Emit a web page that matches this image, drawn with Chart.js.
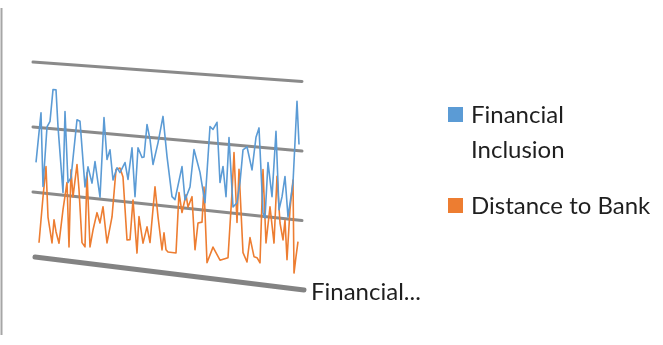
<!DOCTYPE html>
<html>
<head>
<meta charset="utf-8">
<script src="https://cdn.jsdelivr.net/npm/chart.js@4/dist/chart.umd.min.js"></script>
<style>
  html, body { margin: 0; padding: 0; background: #ffffff; }
  #wrap { width: 663px; height: 345px; position: relative; }
</style>
</head>
<body>
<div id="wrap"><canvas id="c" width="663" height="345"></canvas></div>
<script>
// Series names and legend lines
const seriesNames = ['Financial Inclusion', 'Distance to Bank'];
const legendLines = [['Financial', 'Inclusion'], ['Distance to Bank']];
const categoryLabel = 'Financial...';
const gridValues = [0, 1, 2, 3];

// Financial Inclusion: observation position and value
const inclusionObs = [0, 2.5, 3.5, 5.5, 7, 8.5, 10, 11, 13.5, 14.5, 16, 17.5, 20.5, 22, 24.5, 26, 28, 29.5, 32, 34,
  35.5, 37, 38.5, 40.5, 42, 44.5, 46, 48, 49.5, 51, 53, 54, 55.5, 57, 58.5, 61, 63.5, 65.5, 68, 69.5,
  73, 74.5, 77, 79, 82, 84.5, 87, 88.5, 90.5, 92, 93.5, 95, 96.5, 98.5, 100.5, 102, 103.5, 105.5, 108, 110,
  111.5, 113.5, 114.5, 116, 118, 120, 121.5, 123, 124.5, 126, 128.5, 130.5, 131.5];
const inclusionVal = [1.46, 2.23, 1.10, 2.02, 2.11, 2.60, 2.60, 2.04, 1.04, 2.28, 1.20, 1.28, 2.17, 2.15, 1.16, 1.47, 1.23, 1.56, 1.03, 2.24,
  1.61, 1.76, 1.31, 1.50, 1.43, 1.59, 1.34, 1.82, 1.09, 1.83, 1.69, 1.70, 2.19, 1.97, 1.60, 1.93, 2.33, 1.74, 1.15, 1.11,
  1.61, 1.12, 1.32, 1.88, 1.55, 1.11, 2.24, 2.20, 2.31, 1.43, 1.67, 1.23, 2.10, 1.09, 1.16, 1.46, 1.94, 1.99, 1.66, 2.14,
  2.28, 1.05, 0.98, 1.79, 1.30, 2.25, 1.12, 1.31, 1.61, 1.03, 1.53, 2.71, 2.09];

// Distance to Bank: observation position and value
const distanceObs = [1.5, 3.5, 5, 6, 8, 9, 10, 11.5, 13.5, 15.5, 16.5, 17.5, 18.5, 20.5, 21.5, 23, 24.5, 25.5, 27, 28.5,
  30.5, 32, 33.5, 35.5, 38, 40, 42, 43.5, 45.5, 47, 48.5, 50.5, 51.5, 53.5, 55.5, 57, 59.5, 61, 63, 64,
  65, 66, 70, 71.5, 73, 75, 76, 78, 79.5, 81, 83, 84, 85.5, 88.5, 92, 96, 98, 99, 100.5, 101.5,
  103.5, 105.5, 107, 109, 110.5, 112, 113.5, 115, 117, 119, 120.5, 122, 123.5, 124.5, 125.5, 127, 128.5, 129, 130, 131];
const distanceVal = [0.23, 0.94, 1.41, 0.64, 0.25, 0.61, 0.43, 0.26, 0.78, 1.20, 0.22, 1.40, 0.99, 1.49, 1.11, 0.31, 0.25, 1.38, 0.26, 0.52,
  0.79, 0.64, 0.89, 0.35, 0.75, 1.47, 1.50, 1.37, 0.43, 0.44, 1.04, 0.25, 0.80, 0.41, 0.66, 0.43, 1.27, 0.83, 0.34, 0.60,
  0.35, 0.32, 0.32, 1.22, 0.93, 1.20, 1.02, 1.18, 0.40, 0.80, 0.82, 1.34, 0.23, 0.47, 0.29, 0.34, 1.30, 1.89, 0.87, 1.65,
  0.44, 0.31, 0.67, 0.40, 0.39, 0.32, 1.68, 0.62, 1.15, 0.63, 1.60, 0.93, 0.69, 0.98, 0.41, 1.14, 1.57, 0.23, 0.47, 0.69];

const colors = ['#5b9bd5', '#ed7d31'];

// Geometry of the tilted back wall (pixels)
const wall = { x0: 33, x1: 302, topDrop: 19.5, bottomDrop: 33 };

// Map a flat pixel position onto the tilted plane
function tilt(chart, x, y) {
  const { top, bottom } = chart.chartArea;
  const t = (x - wall.x0) / (wall.x1 - wall.x0);
  const f = (y - top) / (bottom - top);
  const yt = top + wall.topDrop * t;
  const yb = bottom + wall.bottomDrop * t;
  return yt + f * (yb - yt);
}

const perspective = {
  id: 'perspective',
  afterDatasetsUpdate(chart) {
    chart.data.datasets.forEach((ds, i) => {
      const meta = chart.getDatasetMeta(i);
      meta.data.forEach(pt => { pt.y = tilt(chart, pt.x, pt.y); });
    });
  },
  beforeDraw(chart) {
    const ctx = chart.ctx;
    ctx.save();
    ctx.strokeStyle = '#a6a6a6';
    ctx.lineWidth = 2;
    ctx.beginPath();
    ctx.moveTo(1.5, 8);
    ctx.lineTo(1.5, 335);
    ctx.stroke();
    ctx.restore();
  },
  beforeDatasetsDraw(chart) {
    const ctx = chart.ctx;
    const ys = chart.scales.y;
    ctx.save();
    ctx.lineCap = 'round';
    gridValues.forEach(v => {
      const yp = ys.getPixelForValue(v);
      const floor = v === gridValues[0];
      ctx.strokeStyle = floor ? 'rgba(118,118,118,0.9)' : 'rgba(125,125,125,0.9)';
      ctx.lineWidth = floor ? 5 : 3;
      ctx.beginPath();
      ctx.moveTo(wall.x0 + (floor ? 2 : 0), tilt(chart, wall.x0, yp));
      ctx.lineTo(wall.x1 + (floor ? 2 : 0), tilt(chart, wall.x1, yp));
      ctx.stroke();
    });
    ctx.restore();
  },
  afterDraw(chart) {
    const ctx = chart.ctx;
    ctx.save();
    ctx.font = '24px Lato, "Open Sans", sans-serif';
    ctx.fillStyle = '#1f1f1f';
    ctx.textBaseline = 'alphabetic';
    // legend
    const legendTop = [107, 198];
    legendLines.forEach((lines, i) => {
      ctx.fillStyle = colors[i];
      ctx.fillRect(448, legendTop[i], 15, 15);
      ctx.fillStyle = '#1f1f1f';
      lines.forEach((s, j) => ctx.fillText(s, 471, legendTop[i] + 16 + j * 35));
    });
    // category axis label at the front-right corner of the floor
    ctx.fillText(categoryLabel, 311, 300);
    ctx.restore();
  }
};

const toPoints = (xs, vs) => xs.map((x, i) => ({ x, y: vs[i] }));

new Chart(document.getElementById('c'), {
  type: 'line',
  data: {
    datasets: [
      { label: seriesNames[0], data: toPoints(inclusionObs, inclusionVal), borderColor: colors[0] },
      { label: seriesNames[1], data: toPoints(distanceObs, distanceVal), borderColor: colors[1] }
    ]
  },
  options: {
    responsive: false,
    devicePixelRatio: 1,
    animation: false,
    layout: { padding: { left: 36, right: 364, top: 62, bottom: 88 } },
    elements: {
      line: { borderWidth: 1.6, tension: 0, fill: false, borderJoinStyle: 'round' },
      point: { radius: 0, hoverRadius: 0 }
    },
    datasets: { line: { clip: false } },
    scales: {
      x: { type: 'linear', min: 0, max: 131.5, display: false },
      y: { min: 0, max: 3, display: false }
    },
    plugins: { legend: { display: false }, tooltip: { enabled: false } }
  },
  plugins: [perspective]
});
</script>
</body>
</html>
